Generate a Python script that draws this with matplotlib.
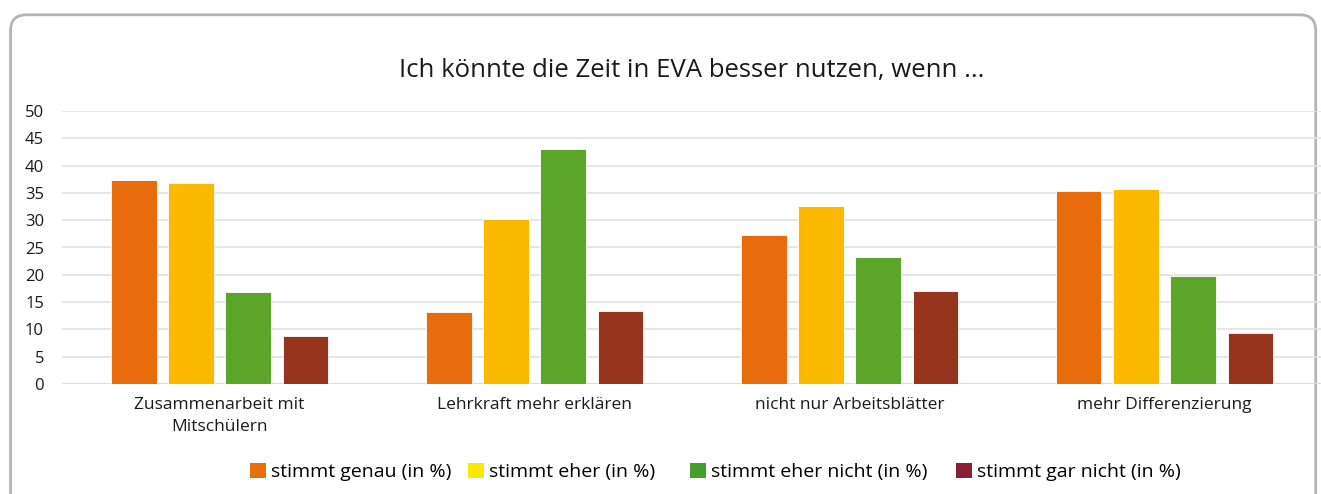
import matplotlib.pyplot as plt
import numpy as np
from matplotlib.patches import Patch, FancyBboxPatch

categories = ['Zusammenarbeit mit\nMitschülern', 'Lehrkraft mehr erklären',
              'nicht nur Arbeitsblätter', 'mehr Differenzierung']
series_names = ['stimmt genau (in %)', 'stimmt eher (in %)',
                'stimmt eher nicht (in %)', 'stimmt gar nicht (in %)']
genau = [37.3, 13.2, 27.2, 35.3]
eher = [36.9, 30.2, 32.6, 35.7]
eher_nicht = [16.9, 43.1, 23.2, 19.8]
gar_nicht = [8.7, 13.3, 17.0, 9.3]

bar_colors = ['#E86C0C', '#FBBA00', '#5BA52A', '#97341D']
legend_colors = ['#E8700A', '#FFE800', '#44A02A', '#8B2035']
legend_x = [250, 468, 690, 956]

plt.rcParams['font.family'] = ['Open Sans', 'DejaVu Sans']

fig = plt.figure(figsize=(13.21, 4.94), dpi=100)

# rounded frame around the chart (behind the axes)
frame = FancyBboxPatch((0.008, -0.05), 0.988, 1.02, boxstyle='round,pad=0,rounding_size=0.012',
                       transform=fig.transFigure, facecolor='white', edgecolor='#B4B4B4',
                       linewidth=2, mutation_aspect=1321 / 494, zorder=-5)
fig.patches.append(frame)

ax = fig.add_axes([62 / 1321, 1 - 384 / 494, 1260 / 1321, 273 / 494])
ax.set_facecolor('none')
ax.set_zorder(2)

x = np.arange(len(categories))
w = 0.143
pitch = 0.181
all_series = [genau, eher, eher_nicht, gar_nicht]
for i, vals in enumerate(all_series):
    ax.bar(x + (i - 1.5) * pitch, vals, width=w, color=bar_colors[i],
           edgecolor='white', linewidth=0.6, zorder=3)

ax.set_xlim(-0.5, 3.5)
ax.set_ylim(0, 50)
ax.set_yticks(range(0, 51, 5))
ax.set_xticks(x)
ax.set_xticklabels(categories, fontsize=12.5, color='#1a1a1a', linespacing=1.55)
ax.tick_params(axis='y', labelsize=12, colors='#1a1a1a', length=0, pad=13)
ax.tick_params(axis='x', length=0, pad=9)
ax.grid(axis='y', color='#E2E2E2', linewidth=1.2, zorder=0)
for s in ax.spines.values():
    s.set_visible(False)
ax.axhline(0, color='#DADADA', linewidth=1.2, zorder=2)

fig.text(692 / 1321, 1 - 70 / 494, 'Ich könnte die Zeit in EVA besser nutzen, wenn ...',
         ha='center', va='center', fontsize=18.5, color='#1a1a1a')

# one legend entry per position, as in the original layout
for name, c, lx in zip(series_names, legend_colors, legend_x):
    fig.legend([Patch(facecolor=c, edgecolor='none')], [name], loc='center left',
               bbox_to_anchor=(lx / 1321, 1 - 472 / 494), frameon=False, fontsize=14,
               handlelength=0.8, handleheight=0.8, handletextpad=0.28,
               borderpad=0, borderaxespad=0)

plt.savefig('out.png', dpi=100)
